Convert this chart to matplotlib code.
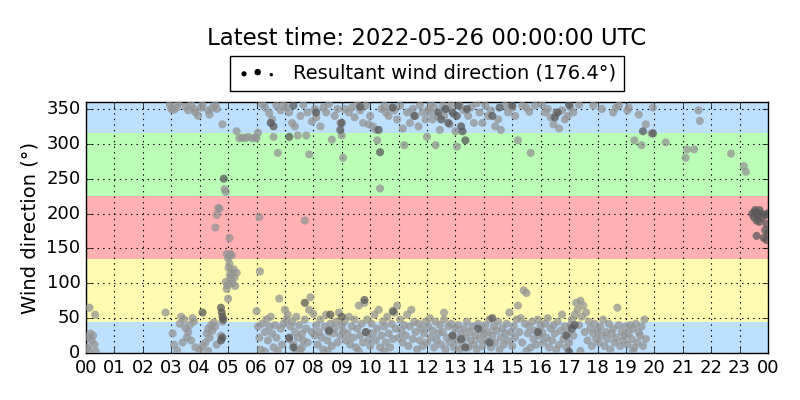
import matplotlib
matplotlib.use("Agg")
import matplotlib.pyplot as plt
import matplotlib.dates as mdates
import numpy as np
import pandas as pd

plt.style.use("classic")

# wind direction samples, hour of day -> degrees
low_hours = [0.05, 0.1, 0.15, 0.2, 0.25, 0.1, 0.3, 0.35, 0.12, 0.32, 2.8,
             3.05, 3.1, 3.2, 3.3, 3.35, 3.45, 3.5, 3.55, 3.6, 3.7, 3.75, 3.8, 3.85, 3.65, 3.4,
             4.0, 4.1, 4.2, 4.25, 4.3, 4.35, 4.4, 4.45, 4.5, 4.55, 4.6, 4.75, 4.8, 4.3,
             6.0, 6.05, 6.1, 6.15, 6.2, 6.3, 6.35, 6.4, 6.45, 6.5, 6.55, 6.6, 6.65, 6.7, 6.8, 6.85, 6.9, 6.95, 7.0, 6.3, 6.75,
             7.05, 7.1, 7.15, 7.2, 7.25, 7.3, 7.35, 7.4, 7.45, 7.5, 7.55, 7.6, 7.65, 7.7, 7.75, 7.8, 7.85, 7.9, 7.95, 8.0, 7.4, 7.6,
             8.05, 8.1, 8.15, 8.2, 8.25, 8.3, 8.35, 8.4, 8.45, 8.5, 8.55, 8.6, 8.65, 8.7, 8.75, 8.8, 8.85, 8.9, 8.95, 9.0, 8.5,
             9.05, 9.1, 9.15, 9.2, 9.25, 9.3, 9.35, 9.4, 9.45, 9.5, 9.55, 9.6, 9.65, 9.7, 9.75, 9.8, 9.85, 9.9, 9.95, 10.0, 9.6,
             10.05, 10.1, 10.15, 10.2, 10.25, 10.3, 10.35, 10.4, 10.45, 10.5, 10.55, 10.6, 10.65, 10.7, 10.75, 10.8, 10.85, 10.9, 10.95, 11.0, 10.5,
             11.05, 11.1, 11.15, 11.2, 11.25, 11.3, 11.35, 11.4, 11.45, 11.5, 11.55, 11.6, 11.65, 11.7, 11.75, 11.8, 11.85, 11.9, 11.95, 12.0,
             12.05, 12.1, 12.15, 12.2, 12.25, 12.3, 12.35, 12.4, 12.45, 12.5, 12.55, 12.6, 12.65, 12.7, 12.75, 12.8, 12.85, 12.9, 12.95, 13.0, 12.6,
             13.05, 13.1, 13.15, 13.2, 13.25, 13.3, 13.35, 13.4, 13.45, 13.5, 13.55, 13.6, 13.65, 13.7, 13.75, 13.8, 13.85, 13.9, 13.95, 14.0,
             14.05, 14.1, 14.15, 14.2, 14.25, 14.3, 14.35, 14.4, 14.45, 14.5, 14.55, 14.6, 14.65, 14.7, 14.75, 14.8, 14.85, 14.9, 14.95, 15.0,
             15.05, 15.1, 15.15, 15.2, 15.25, 15.3, 15.35, 15.4, 15.45, 15.5, 15.55, 15.6, 15.65, 15.7, 15.75, 15.8, 15.85, 15.9, 15.95, 16.0, 15.5,
             16.05, 16.1, 16.15, 16.2, 16.25, 16.3, 16.35, 16.4, 16.45, 16.5, 16.55, 16.6, 16.65, 16.7, 16.75, 16.8, 16.85, 16.9, 16.95, 17.0,
             17.05, 17.1, 17.15, 17.2, 17.25, 17.3, 17.35, 17.4, 17.45, 17.5, 17.55, 17.6, 17.65, 17.7, 17.75, 17.8, 17.85, 17.9, 17.95, 18.0, 17.4,
             18.05, 18.1, 18.15, 18.2, 18.25, 18.3, 18.35, 18.4, 18.45, 18.5, 18.55, 18.6, 18.65, 18.7, 18.75, 18.8, 18.85, 18.9, 18.95, 19.0,
             19.05, 19.1, 19.15, 19.2, 19.25, 19.3, 19.35, 19.4, 19.45, 19.5, 19.55, 19.6, 19.65, 19.7, 19.25]
low_dirs = [8, 22, 28, 18, 25, 3, 12, 2, 65, 55, 58,
            28, 12, 4, 42, 52, 48, 36, 22, 30, 18, 50, 45, 8, 40, 15,
            4, 10, 15, 28, 35, 22, 40, 32, 44, 38, 12, 25, 45, 3,
            60, 38, 22, 5, 42, 30, 48, 18, 38, 52, 28, 8, 40, 22, 78, 35, 12, 42, 62, 2, 3,
            48, 55, 20, 38, 45, 12, 30, 52, 22, 40, 5, 28, 18, 48, 35, 15, 62, 80, 30, 56, 3, 8,
            25, 40, 12, 30, 48, 22, 5, 38, 55, 18, 30, 42, 10, 28, 35, 45, 15, 58, 25, 40, 3,
            32, 45, 18, 28, 52, 12, 38, 22, 48, 8, 35, 68, 25, 42, 15, 72, 30, 48, 20, 10, 3,
            42, 28, 55, 18, 35, 62, 8, 25, 45, 38, 15, 52, 28, 8, 42, 20, 58, 35, 68, 22, 3,
            48, 32, 15, 40, 25, 55, 10, 38, 62, 20, 45, 30, 5, 42, 18, 35, 10, 28, 45, 15,
            38, 50, 22, 32, 8, 45, 18, 28, 40, 12, 30, 48, 5, 22, 38, 15, 42, 25, 8, 35, 58,
            18, 40, 5, 28, 12, 35, 22, 45, 8, 30, 18, 38, 12, 25, 5, 42, 20, 32, 10, 28,
            40, 18, 30, 48, 8, 25, 38, 15, 32, 45, 5, 22, 35, 12, 28, 42, 18, 58, 30, 10,
            38, 22, 48, 68, 30, 50, 15, 90, 42, 86, 28, 38, 8, 45, 20, 32, 12, 48, 25, 40, 3,
            30, 15, 42, 22, 50, 8, 35, 18, 40, 28, 5, 45, 12, 32, 55, 20, 38, 8, 28, 15,
            40, 48, 25, 55, 72, 62, 40, 75, 52, 68, 30, 58, 18, 45, 35, 10, 28, 42, 20, 32, 3,
            15, 38, 25, 48, 10, 30, 20, 42, 5, 28, 35, 15, 22, 65, 40, 10, 30, 18, 25, 38,
            12, 28, 40, 20, 35, 8, 42, 15, 30, 25, 38, 10, 48, 20, 3]

high_hours = [2.95, 3.0, 3.1, 3.2, 3.25, 3.5, 3.6, 3.7, 3.8, 3.85, 3.95, 4.05, 4.1,
              4.3, 4.35, 4.45, 4.55, 4.6, 4.8,
              5.3, 5.4, 5.5, 5.6, 5.7, 5.85, 5.95, 6.05, 6.0,
              6.2, 6.3, 6.45, 6.55, 6.6, 6.75, 6.7, 6.85, 6.95, 7.05, 7.15,
              7.25, 7.35, 7.45, 7.55, 7.65, 7.75, 7.85, 7.8, 7.95, 8.05, 8.1, 8.25,
              8.35, 8.45, 8.55, 8.65, 8.75, 8.85, 8.95, 9.0, 9.05, 9.1,
              9.25, 9.35, 9.45, 9.55, 9.65, 9.75, 9.85, 9.95, 10.0, 10.1, 10.2, 10.25, 10.35, 10.4,
              10.5, 10.55, 10.65, 10.75, 10.85, 10.95, 11.05, 11.15, 11.2, 11.3, 11.4, 11.5,
              11.6, 11.7, 11.75, 11.85, 11.95, 12.0, 12.05,
              12.1, 12.15, 12.2, 12.25, 12.3, 12.35, 12.45, 12.55, 12.6, 12.7, 12.8, 12.85, 12.95, 13.0, 13.05,
              13.15, 13.3, 13.45, 13.55, 13.65, 13.75, 13.85, 13.95, 14.05, 14.15, 14.25, 14.4, 14.5, 14.6,
              14.75, 14.85, 15.0, 15.1, 15.2, 15.35, 15.5, 15.6, 15.65, 15.8,
              16.05, 16.15, 16.25, 16.35, 16.45, 16.55, 16.65, 16.75, 16.85, 16.95, 17.05, 17.15,
              17.35, 17.85, 18.15, 18.55, 18.65, 18.75, 19.1, 19.05, 19.45, 19.3,
              19.55, 19.7, 19.9, 19.95, 20.4, 21.1, 21.15, 21.4, 21.55, 21.6,
              22.7, 23.15, 23.22]
high_dirs = [356, 350, 349, 352, 358, 353, 348, 357, 350, 345, 340, 352, 356,
             348, 342, 352, 356, 350, 328,
             318, 308, 309, 308, 310, 308, 309, 316, 308,
             357, 352, 344, 335, 310, 287, 355, 348, 356, 352, 345,
             330, 325, 312, 340, 356, 312, 285, 345, 332, 350, 338, 325,
             352, 345, 357, 306, 340, 350, 330, 312, 280, 350,
             345, 352, 338, 357, 348, 330, 355, 328, 340, 325, 320, 305, 236, 350,
             355, 345, 340, 352, 348, 335, 355, 322, 298, 345, 330, 350,
             340, 325, 355, 345, 335, 310, 350,
             345, 358, 335, 352, 298, 340, 320, 355, 340, 350, 328, 356, 342, 318, 296,
             355, 348, 340, 352, 330, 358, 345, 330, 355, 340, 348, 325, 335, 320,
             355, 345, 352, 340, 305, 355, 352, 346, 287, 355,
             356, 345, 350, 338, 328, 345, 322, 348, 335, 340, 352, 345,
             356, 355, 350, 345, 352, 355, 352, 348, 342, 305,
             298, 328, 315, 352, 302, 280, 292, 292, 348, 333,
             286, 268, 260]

mid_hours = [4.65, 4.7, 4.6, 4.55, 4.88, 4.92, 5.05, 4.95, 5.0, 5.08, 5.13, 5.02, 5.06, 5.1,
             5.15, 5.2, 5.17, 4.92, 4.95, 5.0, 5.25, 5.3, 5.22, 6.1, 6.12, 7.7, 4.98, 5.05]
mid_dirs = [208, 207, 198, 180, 235, 231, 165, 142, 136, 142, 140, 122, 112, 106,
            100, 120, 115, 102, 92, 78, 96, 115, 108, 195, 117, 190, 97, 128]

dark_hours = [4.85, 4.75, 4.78, 4.8, 4.83, 4.8, 4.75, 4.1,
              7.7, 7.15, 7.3, 8.55, 8.6, 9.0, 9.8, 9.85, 10.8, 12.9, 13.2, 13.35, 13.8,
              14.3, 15.9, 16.9, 17.1, 17.0, 17.2, 14.2,
              6.5, 6.6, 7.15, 7.3, 8.1, 8.95, 9.0, 9.65, 10.3, 10.35, 10.8, 11.55,
              12.4, 12.5, 12.65, 12.75, 12.9, 13.05, 13.2, 13.25, 13.35, 13.1, 13.4,
              14.3, 14.55, 15.0, 16.5, 16.6, 17.0, 19.6, 19.95,
              23.45, 23.5, 23.55, 23.6, 23.65, 23.7, 23.75, 23.8, 23.85, 23.9, 23.95,
              24.0, 23.98, 23.6, 23.55, 23.7, 23.92, 23.95]
dark_dirs = [250, 65, 58, 52, 48, 22, 18, 58,
             72, 22, 8, 32, 55, 52, 76, 30, 60, 25, 20, 8, 35,
             50, 30, 25, 35, 2, 40, 15,
             330, 325, 310, 355, 345, 320, 330, 353, 320, 288, 352, 340,
             345, 335, 350, 330, 345, 340, 325, 318, 305, 355, 350,
             340, 352, 355, 338, 345, 356, 318, 315,
             200, 195, 205, 190, 198, 188, 200, 194, 165, 176, 185,
             172, 200, 168, 202, 205, 198, 162]

bands = [(0, 45, "#bde0fe"), (45, 135, "#fffbb0"), (135, 225, "#ffb0b3"),
         (225, 315, "#bbffb7"), (315, 360, "#bde0fe")]

start = pd.Timestamp("2022-05-25 00:00")


def to_time(hours):
    return start + pd.to_timedelta(np.array(hours), unit="h")


fig = plt.figure(figsize=(8, 4), dpi=100, facecolor="white")
ax = fig.add_axes([0.1075, 0.1175, 0.8525, 0.6275])

for lo, hi, col in bands:
    ax.axhspan(lo, hi, color=col, lw=0, zorder=0)

ax.scatter(to_time(low_hours), low_dirs, s=34, c="0.58", alpha=0.75, edgecolors="none", zorder=3)
ax.scatter(to_time(high_hours), high_dirs, s=34, c="0.58", alpha=0.75, edgecolors="none", zorder=3)
ax.scatter(to_time(mid_hours), mid_dirs, s=34, c="0.58", alpha=0.75, edgecolors="none", zorder=3)
ax.scatter(to_time(dark_hours), dark_dirs, s=34, c="0.35", alpha=0.75, edgecolors="none", zorder=3)

# legend handle only
h = ax.scatter([np.nan, np.nan], [np.nan, np.nan], s=[6, 22], c="k", edgecolors="none",
               label="Resultant wind direction (176.4°)")

ax.set_xlim(start, start + pd.Timedelta(hours=24))
ax.set_ylim(0, 360)
ax.set_yticks(range(0, 351, 50))
ax.xaxis.set_major_locator(mdates.HourLocator(interval=1))
ax.xaxis.set_major_formatter(mdates.DateFormatter("%H"))
ax.grid(True, color="k", linestyle=":", linewidth=0.8)
ax.set_ylabel("Wind direction (°)", fontsize=14)
ax.tick_params(labelsize=13)

ax.legend(handles=[h], loc="lower center", bbox_to_anchor=(0.5, 1.045), borderaxespad=0,
          fontsize=14, scatterpoints=3, fancybox=False, framealpha=1)
ax.set_title("Latest time: 2022-05-26 00:00:00 UTC", fontsize=16.5, y=1.2)

fig.savefig("out.png", dpi=100, facecolor="white")
